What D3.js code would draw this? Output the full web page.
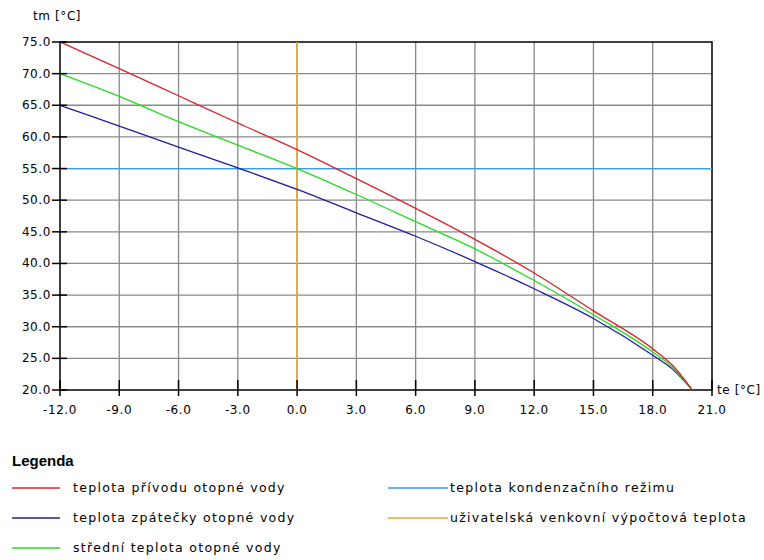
<!DOCTYPE html>
<meta charset="utf-8">
<html>
<head>
    <title>Topná křivka</title>
    <script src="https://cdn.jsdelivr.net/npm/d3@7"></script>
</head>
<style>
    body{ margin:0; background:#fff; }
    svg{ width:764px; height:560px; display:block; }
    text{ font-family: "DejaVu Sans", sans-serif; font-size: 12px; letter-spacing: 0.6px; fill:#000; }
    .grid line{ stroke:#8a8a8a; stroke-width:1.3px; }
    .frame{ stroke:#000; stroke-width:1.5px; fill:none; }
    .series{ fill:none; stroke-width:1.3px; }
    .leg{ font-size: 12.5px; letter-spacing: 1.3px; }
</style>
<body>
<svg></svg>
<script>
    // venkovní teplota te [°C]
    let te = [-12, -9, -6, -3, 0, 3, 6, 9, 12, 15, 18, 19, 20]
    // teplota přívodu
    let supply = [75, 70.8, 66.5, 62.2, 58.0, 53.4, 48.7, 43.8, 38.5, 32.5, 26.5, 23.9, 20]
    // teplota zpátečky
    let ret = [65, 61.7, 58.4, 55.1, 51.7, 48.0, 44.3, 40.3, 36.0, 31.3, 25.5, 23.3, 20]
    // střední teplota
    let mean = [70, 66.4, 62.4, 58.7, 55.0, 50.9, 46.6, 42.3, 37.3, 31.9, 26.0, 23.6, 20]
    let condensTemp = 55
    let designTemp = 0
    let xTicks = [-12, -9, -6, -3, 0, 3, 6, 9, 12, 15, 18, 21]
    let yTicks = [20, 25, 30, 35, 40, 45, 50, 55, 60, 65, 70, 75]

    let legendLeft = [
        {name: "teplota přívodu otopné vody", color: "#d8242a"},
        {name: "teplota zpátečky otopné vody", color: "#1f1f9c"},
        {name: "střední teplota otopné vody", color: "#22dd22"}
    ]
    let legendRight = [
        {name: "teplota kondenzačního režimu", color: "#3a9de6"},
        {name: "uživatelská venkovní výpočtová teplota", color: "#f2a527"}
    ]

    let svg = d3.select("svg")
    let x = d3.scaleLinear().domain([-12, 21]).range([60, 712])
    let y = d3.scaleLinear().domain([20, 75]).range([390, 42])

    // grid
    let grid = svg.append("g").attr("class", "grid")
    grid.selectAll(".v").data(xTicks.slice(1, -1)).enter().append("line")
        .attr("x1", d => x(d)).attr("x2", d => x(d)).attr("y1", y(20)).attr("y2", y(75))
    grid.selectAll(".h").data(yTicks.slice(1, -1)).enter().append("line")
        .attr("x1", x(-12)).attr("x2", x(21)).attr("y1", d => y(d)).attr("y2", d => y(d))

    // frame
    svg.append("rect").attr("class", "frame")
        .attr("x", x(-12)).attr("y", y(75))
        .attr("width", x(21) - x(-12)).attr("height", y(20) - y(75))

    // condensing temperature + design temperature
    svg.append("line").attr("x1", x(-12)).attr("x2", x(21))
        .attr("y1", y(condensTemp)).attr("y2", y(condensTemp))
        .attr("stroke", legendRight[0].color).attr("stroke-width", 1.3)
    svg.append("line").attr("x1", x(designTemp)).attr("x2", x(designTemp))
        .attr("y1", y(20)).attr("y2", y(75))
        .attr("stroke", legendRight[1].color).attr("stroke-width", 1.5)

    // curves
    let line = d3.line().curve(d3.curveMonotoneX).x((d, i) => x(te[i])).y(d => y(d))
    let series = [ret, mean, supply]
    let colors = [legendLeft[1].color, legendLeft[2].color, legendLeft[0].color]
    series.forEach((s, i) => {
        svg.append("path").attr("class", "series").attr("d", line(s)).attr("stroke", colors[i])
    })

    // ticks crossing the axes
    svg.selectAll(".yt").data(yTicks).enter().append("line")
        .attr("x1", x(-12) - 8).attr("x2", x(-12) + 7)
        .attr("y1", d => y(d)).attr("y2", d => y(d))
        .attr("stroke", "#000").attr("stroke-width", 1.5)
    svg.selectAll(".xt").data(xTicks).enter().append("line")
        .attr("x1", d => x(d)).attr("x2", d => x(d))
        .attr("y1", y(20) - 10).attr("y2", y(20) + 6)
        .attr("stroke", "#000").attr("stroke-width", 1.5)

    // tick labels
    svg.selectAll(".yl").data(yTicks).enter().append("text")
        .attr("x", x(-12) - 9).attr("y", d => y(d) + 4)
        .attr("text-anchor", "end")
        .text(d => d.toFixed(1))
    svg.selectAll(".xl").data(xTicks).enter().append("text")
        .attr("x", d => x(d)).attr("y", y(20) + 24)
        .attr("text-anchor", "middle")
        .text(d => d.toFixed(1))

    // axis titles
    svg.append("text").attr("x", 33).attr("y", 20).text("tm [°C]")
    svg.append("text").attr("x", x(21) + 5).attr("y", y(20) + 4).text("te [°C]")

    // legend
    svg.append("text").attr("x", 12).attr("y", 466)
        .style("font-family", "Liberation Sans, Arial, sans-serif")
        .style("font-size", "15px").style("font-weight", "bold").style("letter-spacing", "0")
        .text("Legenda")

    let lg = svg.append("g")
    legendLeft.forEach((d, i) => {
        let yy = 488 + i * 30
        lg.append("line").attr("x1", 12).attr("x2", 60).attr("y1", yy).attr("y2", yy)
            .attr("stroke", d.color).attr("stroke-width", 1.5)
        lg.append("text").attr("class", "leg").attr("x", 73).attr("y", yy + 4).text(d.name)
    })
    legendRight.forEach((d, i) => {
        let yy = 488 + i * 30
        lg.append("line").attr("x1", 388).attr("x2", 448).attr("y1", yy).attr("y2", yy)
            .attr("stroke", d.color).attr("stroke-width", 1.5)
        lg.append("text").attr("class", "leg").attr("x", 450).attr("y", yy + 4).text(d.name)
    })
</script>
</body>
</html>
